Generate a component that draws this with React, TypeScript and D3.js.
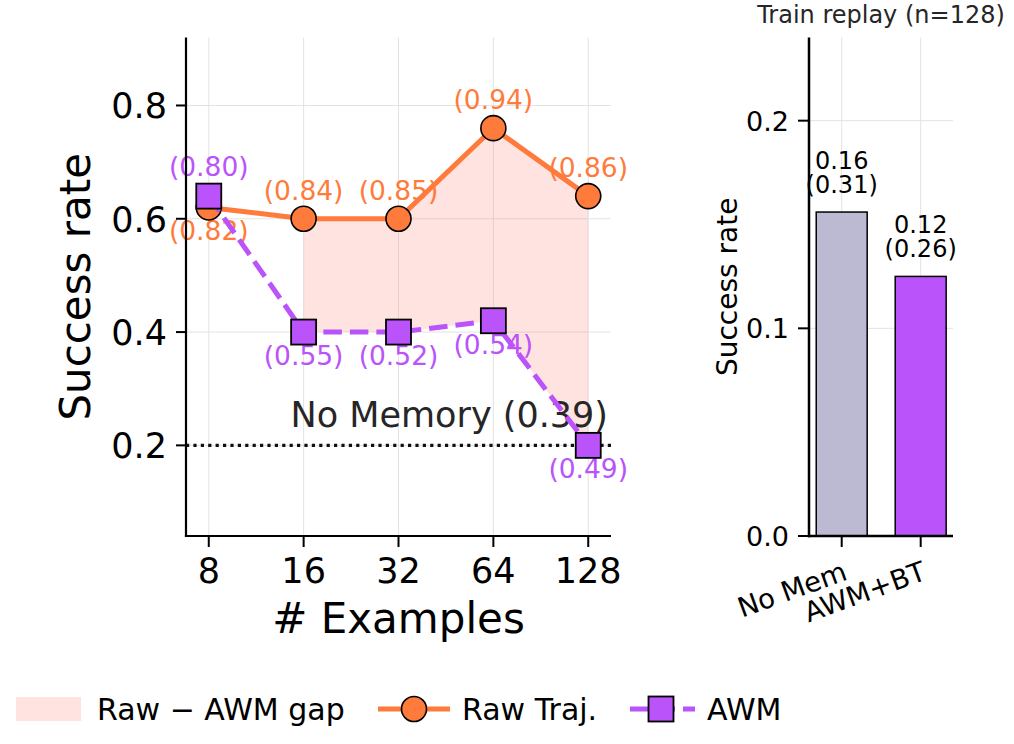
import * as d3 from "d3";

const FONT = "DejaVu Sans, Verdana, sans-serif";
const RAW_COLOR = "#FF7B3B";
const AWM_COLOR = "#BA53F9";
const GAP_COLOR = "#fa8072";
const NOMEM_COLOR = "#BCB9D3";
const GRID_COLOR = "#e3e3e3";

// left panel data
const examples = ["8", "16", "32", "64", "128"];
const rawTraj = [0.62, 0.6, 0.6, 0.76, 0.64];
const awmRate = [0.64, 0.4, 0.4, 0.42, 0.2];
const rawLabels = ["(0.82)", "(0.84)", "(0.85)", "(0.94)", "(0.86)"];
const awmLabels = ["(0.80)", "(0.55)", "(0.52)", "(0.54)", "(0.49)"];
const gapFrom = 1; // gap band starts at 16 examples
const noMemoryRate = 0.2;
const noMemoryLabel = "No Memory (0.39)";
const leftYTicks = [0.2, 0.4, 0.6, 0.8];

// right panel data
const barNames = ["No Mem", "AWM+BT"];
const barValues = [0.156, 0.125];
const barTop = ["0.16", "0.12"];
const barBottom = ["(0.31)", "(0.26)"];
const barColors = [NOMEM_COLOR, AWM_COLOR];
const rightYTicks = [0.0, 0.1, 0.2];

const legendItems = ["Raw \u2212 AWM gap", "Raw Traj.", "AWM"];

const App = () => {
  const width = 1014;
  const height = 744;

  // left axes
  const x = d3.scaleLinear().domain([-0.24, 4.24]).range([186, 611]);
  const y = d3.scaleLinear().domain([0.04, 0.92]).range([536, 37.5]);

  // right axes
  const xb = d3.scaleLinear().domain([-0.414, 1.409]).range([809, 953]);
  const yb = d3.scaleLinear().domain([0, 0.24]).range([536, 37.6]);
  const barW = 0.645;

  const rawLine = d3
    .line<number>()
    .x((d, i) => x(i))
    .y((d) => y(d));

  const gapArea = d3
    .area<number>()
    .x((d, i) => x(i + gapFrom))
    .y0((d, i) => y(awmRate[i + gapFrom]))
    .y1((d) => y(d));

  const [x0, x1] = x.range();
  const [yBottom, yTop] = y.range();
  const [bx0, bx1] = xb.range();

  return (
    <svg
      width={width}
      height={height}
      style={{ position: "absolute", left: 0, top: 0, background: "white" }}
      fontFamily={FONT}
    >
      {/* ---------- left panel ---------- */}
      <g>
        {leftYTicks.map((t) => (
          <line key={"gy" + t} x1={x0} x2={x1} y1={y(t)} y2={y(t)} stroke={GRID_COLOR} strokeWidth={1} />
        ))}
        {examples.map((e, i) => (
          <line key={"gx" + e} x1={x(i)} x2={x(i)} y1={yTop} y2={yBottom} stroke={GRID_COLOR} strokeWidth={1} />
        ))}

        <path d={gapArea(rawTraj.slice(gapFrom)) as string} fill={GAP_COLOR} fillOpacity={0.22} />

        <line
          x1={x0}
          x2={x1}
          y1={y(noMemoryRate)}
          y2={y(noMemoryRate)}
          stroke="#111"
          strokeWidth={3.2}
          strokeDasharray="3.2,4.2"
        />
        <text
          x={x1 - 3}
          y={y(noMemoryRate) - 18}
          textAnchor="end"
          fontSize={35}
          fill="#262626"
        >
          {noMemoryLabel}
        </text>

        {/* value annotations */}
        {rawTraj.map((v, i) => {
          const below = v < awmRate[i];
          return (
            <text
              key={"rl" + i}
              x={x(i)}
              y={y(v) + (below ? 33 : -19)}
              textAnchor="middle"
              fontSize={26.5}
              fill={RAW_COLOR}
            >
              {rawLabels[i]}
            </text>
          );
        })}
        {awmRate.map((v, i) => {
          const above = v > rawTraj[i];
          return (
            <text
              key={"al" + i}
              x={x(i)}
              y={y(v) + (above ? -20 : 33)}
              textAnchor="middle"
              fontSize={26.5}
              fill={AWM_COLOR}
            >
              {awmLabels[i]}
            </text>
          );
        })}

        {/* Raw Traj. line */}
        <path d={rawLine(rawTraj) as string} fill="none" stroke={RAW_COLOR} strokeWidth={5} />
        {rawTraj.map((v, i) => (
          <circle key={"rc" + i} cx={x(i)} cy={y(v)} r={12.5} fill={RAW_COLOR} stroke="#000" strokeWidth={1.6} />
        ))}

        {/* AWM line */}
        <path
          d={rawLine(awmRate) as string}
          fill="none"
          stroke={AWM_COLOR}
          strokeWidth={5}
          strokeDasharray="18.5,8"
        />
        {awmRate.map((v, i) => (
          <rect
            key={"ar" + i}
            x={x(i) - 12.5}
            y={y(v) - 12.5}
            width={25}
            height={25}
            fill={AWM_COLOR}
            stroke="#000"
            strokeWidth={1.8}
          />
        ))}

        {/* spines */}
        <line x1={x0} x2={x0} y1={yTop} y2={yBottom + 1.1} stroke="#000" strokeWidth={2.2} />
        <line x1={x0 - 1.1} x2={x1} y1={yBottom} y2={yBottom} stroke="#000" strokeWidth={2.2} />

        {leftYTicks.map((t) => (
          <g key={"ty" + t}>
            <line x1={x0 - 10} x2={x0} y1={y(t)} y2={y(t)} stroke="#000" strokeWidth={2} />
            <text x={x0 - 19} y={y(t) + 13} textAnchor="end" fontSize={35} fill="#000">
              {t.toFixed(1)}
            </text>
          </g>
        ))}
        {examples.map((e, i) => (
          <g key={"tx" + e}>
            <line x1={x(i)} x2={x(i)} y1={yBottom} y2={yBottom + 11} stroke="#000" strokeWidth={2} />
            <text x={x(i)} y={583} textAnchor="middle" fontSize={35} fill="#000">
              {e}
            </text>
          </g>
        ))}

        <text x={(x0 + x1) / 2} y={633} textAnchor="middle" fontSize={42} fill="#000">
          # Examples
        </text>
        <text
          transform={`translate(90,${(yTop + yBottom) / 2}) rotate(-90)`}
          textAnchor="middle"
          fontSize={42}
          fill="#000"
        >
          Success rate
        </text>
      </g>

      {/* ---------- right panel ---------- */}
      <g>
        {rightYTicks.map((t) => (
          <line key={"bgy" + t} x1={bx0} x2={bx1} y1={yb(t)} y2={yb(t)} stroke={GRID_COLOR} strokeWidth={1} />
        ))}
        {barNames.map((n, i) => (
          <line key={"bgx" + n} x1={xb(i)} x2={xb(i)} y1={yb.range()[1]} y2={yb(0)} stroke={GRID_COLOR} strokeWidth={1} />
        ))}

        {barValues.map((v, i) => (
          <g key={"bar" + i}>
            <rect
              x={xb(i - barW / 2)}
              y={yb(v)}
              width={xb(barW) - xb(0)}
              height={yb(0) - yb(v)}
              fill={barColors[i]}
              stroke="#000"
              strokeWidth={1.5}
            />
            <text x={xb(i)} y={yb(v) - 43} textAnchor="middle" fontSize={24} fill="#000">
              <tspan x={xb(i)}>{barTop[i]}</tspan>
              <tspan x={xb(i)} dy={24}>
                {barBottom[i]}
              </tspan>
            </text>
          </g>
        ))}

        <line x1={bx0} x2={bx0} y1={yb.range()[1]} y2={yb(0) + 1.2} stroke="#000" strokeWidth={2.5} />
        <line x1={bx0 - 1.2} x2={bx1} y1={yb(0)} y2={yb(0)} stroke="#000" strokeWidth={2.5} />

        {rightYTicks.map((t) => (
          <g key={"bty" + t}>
            <line x1={bx0 - 11} x2={bx0} y1={yb(t)} y2={yb(t)} stroke="#000" strokeWidth={2} />
            <text x={bx0 - 20} y={yb(t) + 10} textAnchor="end" fontSize={27} fill="#000">
              {t.toFixed(1)}
            </text>
          </g>
        ))}
        {barNames.map((n, i) => (
          <g key={"btx" + n}>
            <line x1={xb(i)} x2={xb(i)} y1={yb(0)} y2={yb(0) + 11} stroke="#000" strokeWidth={2} />
            <text
              transform={`translate(${xb(i) + 7},579) rotate(-20)`}
              textAnchor="end"
              fontSize={27.5}
              fill="#000"
            >
              {n}
            </text>
          </g>
        ))}

        <text
          transform={`translate(737,${(yb.range()[0] + yb.range()[1]) / 2}) rotate(-90)`}
          textAnchor="middle"
          fontSize={28}
          fill="#000"
        >
          Success rate
        </text>
        <text x={(bx0 + bx1) / 2} y={22.7} textAnchor="middle" fontSize={24} fill="#262626">
          Train replay (n=128)
        </text>
      </g>

      {/* ---------- legend ---------- */}
      <g>
        <rect x={16} y={697} width={65} height={24} fill={GAP_COLOR} fillOpacity={0.22} />
        <text x={97} y={719.5} fontSize={30} fill="#000">
          {legendItems[0]}
        </text>

        <line x1={378} x2={450} y1={709} y2={709} stroke={RAW_COLOR} strokeWidth={5} />
        <circle cx={414} cy={709} r={12.5} fill={RAW_COLOR} stroke="#000" strokeWidth={1.6} />
        <text x={462} y={719.5} fontSize={30} fill="#000">
          {legendItems[1]}
        </text>

        <line
          x1={628}
          x2={695}
          y1={709}
          y2={709}
          stroke={AWM_COLOR}
          strokeWidth={5}
          strokeDasharray="18.5,8"
          strokeDashoffset={-2}
        />
        <rect x={648.5} y={696.5} width={25} height={25} fill={AWM_COLOR} stroke="#000" strokeWidth={1.8} />
        <text x={707} y={719.5} fontSize={30} fill="#000">
          {legendItems[2]}
        </text>
      </g>
    </svg>
  );
};

export default App;
